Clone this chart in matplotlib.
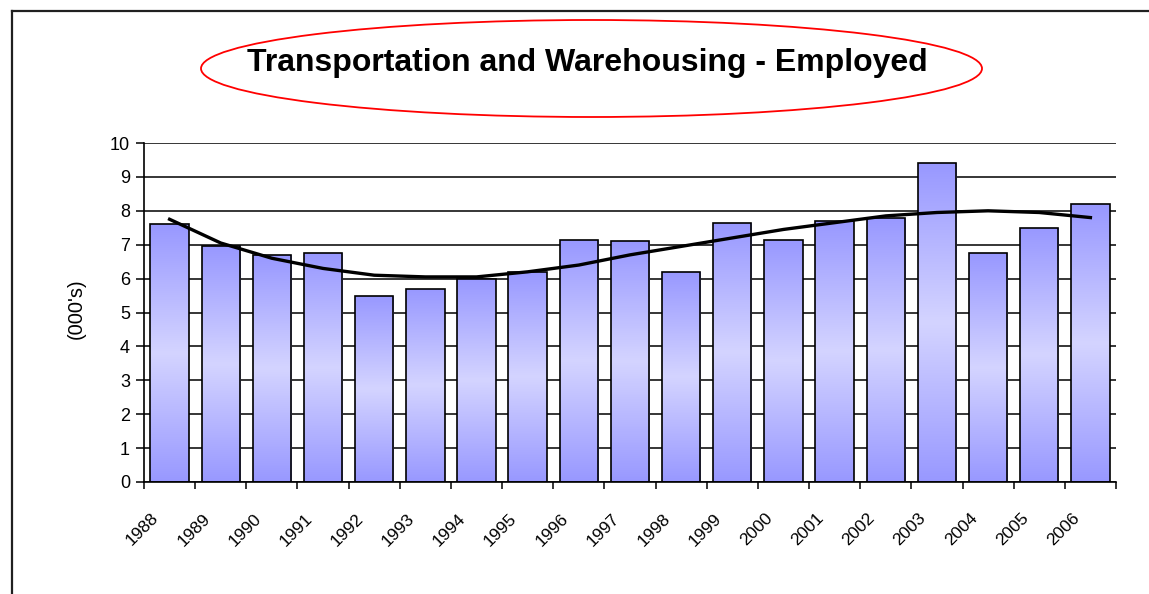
import numpy as np
import matplotlib.pyplot as plt
from matplotlib.patches import Ellipse
from matplotlib.lines import Line2D
from matplotlib.colors import LinearSegmentedColormap

plt.rcParams['font.family'] = ['Liberation Sans', 'DejaVu Sans']

# data (thousands employed)
years = [1988, 1989, 1990, 1991, 1992, 1993, 1994, 1995, 1996, 1997,
         1998, 1999, 2000, 2001, 2002, 2003, 2004, 2005, 2006]
employed = [7.6, 6.95, 6.7, 6.75, 5.5, 5.7, 6.0, 6.2, 7.15, 7.1,
            6.2, 7.65, 7.15, 7.7, 7.8, 9.4, 6.75, 7.5, 8.2]
# trend line as drawn on the chart
trend = [7.75, 7.05, 6.6, 6.3, 6.1, 6.05, 6.05, 6.2, 6.4, 6.7,
         6.95, 7.2, 7.45, 7.65, 7.85, 7.95, 8.0, 7.95, 7.8]

W, H = 1149, 594
fig = plt.figure(figsize=(W / 100, H / 100), dpi=100)
ax = fig.add_axes([144 / W, 112 / H, 972 / W, 339 / H])

x = np.arange(len(years))

#bars with vertical gradient fill (dark - light - dark)
bars = ax.bar(x, employed, width=0.75, facecolor='none', edgecolor='black',
              linewidth=1.2, zorder=3)
cmap = LinearSegmentedColormap.from_list('bar', ['#9898ff', '#d4d4ff', '#9898ff'])
grad = np.linspace(0, 1, 256).reshape(-1, 1)
for b in bars:
    im = ax.imshow(grad, cmap=cmap, aspect='auto', origin='lower',
                   extent=[b.get_x(), b.get_x() + b.get_width(), 0, b.get_height()],
                   zorder=2)
    im.set_clip_path(b)

#trend line
ax.plot(x, trend, color='black', linewidth=2.4, zorder=4)

ax.set_xlim(-0.5, len(years) - 0.5)
ax.set_ylim(0, 10)
ax.set_yticks(range(11))
ax.yaxis.grid(True, color='black', linewidth=1.1)
ax.set_axisbelow(True)
ax.set_xticks(np.arange(-0.5, len(years), 1))
ax.set_xticklabels([])
ax.tick_params(axis='y', length=6, width=1.1, labelsize=13, pad=4)
ax.tick_params(axis='x', length=5, width=1.1)
for s in ['top', 'right']:
    ax.spines[s].set_visible(False)
for s in ['left', 'bottom']:
    ax.spines[s].set_linewidth(1.2)

#rotated year labels
for xi, yr in zip(x, years):
    ax.text(xi - 0.26, -0.1, str(yr), transform=ax.get_xaxis_transform(),
            rotation=45, rotation_mode='anchor', ha='right', va='center',
            fontsize=12.5)

fig.text(76 / W, 1 - 309 / H, "(000's)", rotation=90, ha='center', va='center',
         fontsize=14.5)

#title and red ellipse
fig.text(587 / W, 1 - 63 / H, 'Transportation and Warehousing - Employed',
         ha='center', va='center', fontsize=23, fontweight='bold')
fig.add_artist(Ellipse((591.5 / W, 1 - 68.5 / H), 781 / W, 97 / H,
                       transform=fig.transFigure, fill=False,
                       edgecolor='red', linewidth=1.3))

#outer frame (left and top edges only visible)
fig.add_artist(Line2D([11.5 / W, 11.5 / W], [0, 1 - 11 / H],
                      transform=fig.transFigure, color='#202020', linewidth=1.6))
fig.add_artist(Line2D([11.5 / W, 1], [1 - 11 / H, 1 - 11 / H],
                      transform=fig.transFigure, color='#202020', linewidth=1.6))

fig.savefig('out.png', dpi=100)
